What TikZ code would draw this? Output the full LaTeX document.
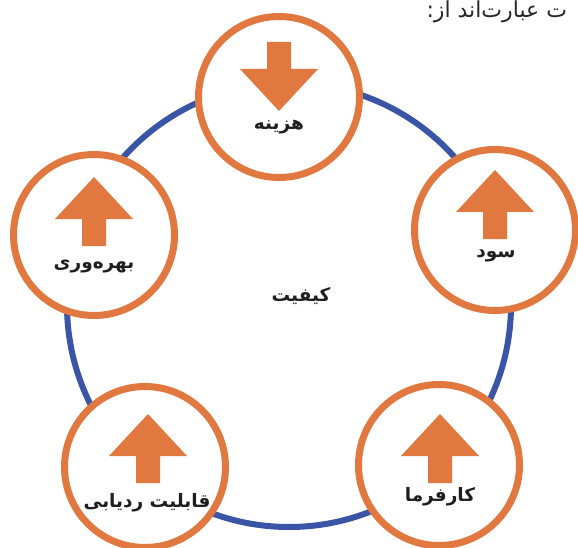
\documentclass[tikz,border=0pt]{standalone}
\usepackage{fontspec}
\newfontfamily\farsi[Script=Arabic]{DejaVu Sans}
\TeXXeTstate=1
\usetikzlibrary{positioning}
\definecolor{ringblue}{HTML}{3A54A6}
\definecolor{factororange}{HTML}{E07840}
\newcommand{\fa}[1]{\farsi\beginR #1\endR}
% arrow with its tip at the given point
\newcommand{\uparr}[1]{\fill[factororange] (#1) -- ++(39,42) -- ++(-27,0) -- ++(0,27) -- ++(-24,0) -- ++(0,-27) -- ++(-27,0) -- cycle;}
\newcommand{\downarr}[1]{\fill[factororange] (#1) -- ++(39,-42) -- ++(-27,0) -- ++(0,-27) -- ++(-24,0) -- ++(0,27) -- ++(-27,0) -- cycle;}
\begin{document}
\begin{tikzpicture}[x=1pt,y=-1pt,
  ring/.style={circle,draw=ringblue,line width=6pt,minimum size=444pt,inner sep=0pt},
  factor/.style={circle,draw=factororange,line width=7pt,fill=white,minimum size=161pt,inner sep=0pt},
  lab/.style={font=\farsi\bfseries\fontsize{18.5}{20}\selectfont,text=black!88,inner sep=1pt}]
\useasboundingbox (0,0) rectangle (578,548);
\node[font=\farsi\fontsize{22}{24}\selectfont,text=black!85,anchor=west] (intro) at (423,12) {\fa{ت عبارت‌اند از:}};
\node[ring] (quality) at (289,305) {};
\node[lab] (qualitylab) at (301,296) {\fa{کیفیت}};
\node[factor] (cost) at (279,97) {};
\node[factor] (profit) at (495,230) {};
\node[factor] (employer) at (439,465) {};
\node[factor] (trace) at (145,467) {};
\node[factor] (product) at (94,235) {};
\downarr{[yshift=-14pt]cost.center}
\uparr{[yshift=60pt]profit.center}
\uparr{[xshift=1pt,yshift=51pt]employer.center}
\uparr{[xshift=3pt,yshift=53pt]trace.center}
\uparr{[yshift=58pt]product.center}
\node[lab] (costlab) at (279,127) {\fa{هزینه}};
\node[lab] (profitlab) at (496,256) {\fa{سود}};
\node[lab] (employerlab) at (440,497) {\fa{کارفرما}};
\node[lab] (tracelab) at (147,503) {\fa{قابلیت ردیابی}};
\node[lab] (productlab) at (94,266) {\fa{بهره‌وری}};
\end{tikzpicture}
\end{document}
